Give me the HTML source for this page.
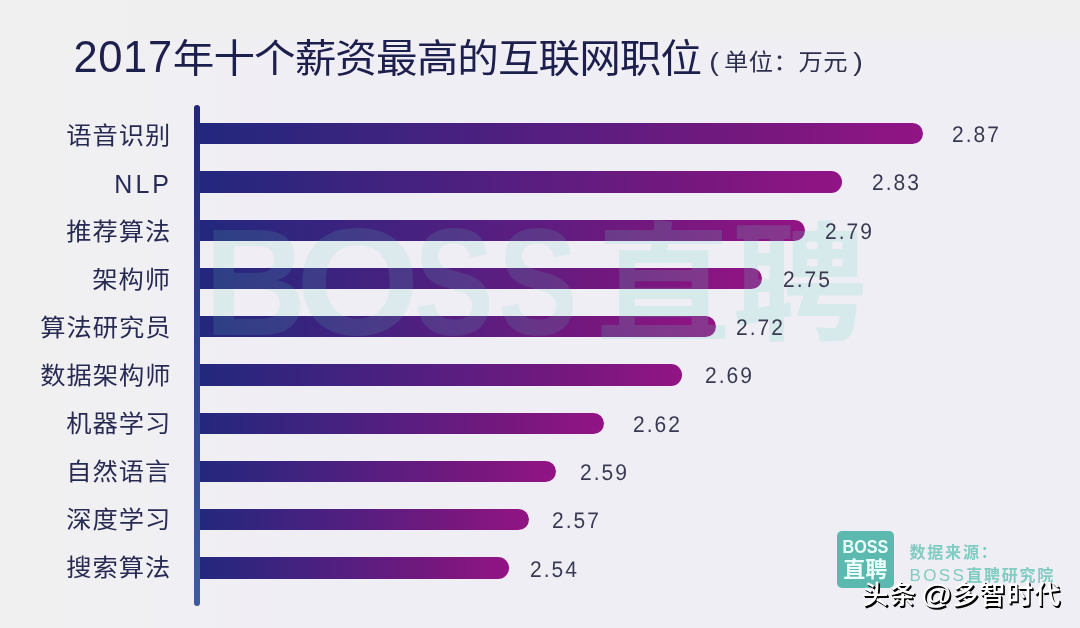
<!DOCTYPE html>
<html lang="zh-CN">
<head>
<meta charset="utf-8">
<title>2017年十个薪资最高的互联网职位</title>
<style>
html,body{margin:0;padding:0;}
body{width:1080px;height:628px;overflow:hidden;position:relative;
  font-family:"Liberation Sans","Noto Sans CJK SC",sans-serif;
  background:
    linear-gradient(to right,#f0f0f0 0%,rgba(240,240,240,0) 28%),
    linear-gradient(to bottom,#efefef 0%,#efefef 4%,rgba(239,239,239,0) 9%),
    #f0eef5;}
.title{position:absolute;left:73.5px;top:27.5px;font-size:43.5px;line-height:60px;color:#1d1f4c;white-space:nowrap;font-weight:400;letter-spacing:-2.7px;}
.title b{font-weight:400;letter-spacing:0.6px;position:relative;top:-1px;}
.title span{display:inline-block;margin-left:0.1px;font-size:41.6px;letter-spacing:-0.95px;transform:scaleY(0.93);transform-origin:50% 49%;}
.unit{position:absolute;top:44.2px;font-size:24.3px;line-height:36px;color:#2d2f4d;white-space:nowrap;letter-spacing:0.5px;transform:scaleY(0.95);transform-origin:50% 50%;}
.unit.p{font-size:25px;transform:scale(1.15,1.05);font-weight:400;}
.axis{position:absolute;left:194.1px;top:104.5px;width:5.9px;height:501.5px;border-radius:3px;background:linear-gradient(to bottom,#23267a 0%,#2f4193 50%,#3e5ba1 100%);}
.lab{position:absolute;right:909.7px;height:40px;line-height:40px;font-size:23.4px;color:#272a52;white-space:nowrap;letter-spacing:0.9px;margin-right:-0.9px;transform:scaleX(1.08);transform-origin:right center;}
.lab.en{font-size:25px;letter-spacing:3px;margin-right:-3px;transform:none;right:911px;}
.bar{position:absolute;left:197px;height:21.4px;border-radius:0 11px 11px 0;background:linear-gradient(to right,#22287d 0%,#3c237f 25%,#571e80 50%,#74187e 75%,#921484 100%);}
.val{position:absolute;height:40px;line-height:40px;font-size:22.6px;color:#393a52;letter-spacing:2.2px;white-space:nowrap;z-index:3;transform:scaleX(0.93);text-rendering:geometricPrecision;transform-origin:0 50%;}
.wm{position:absolute;left:0;top:0;width:1080px;height:628px;color:rgba(100,215,190,0.14);font-weight:700;}
.wm i{position:absolute;font-style:normal;white-space:nowrap;transform-origin:0 50%;font-size:153px;line-height:160px;top:201.5px;}
.wm i.c{font-size:129px;font-weight:700;top:206px;color:rgba(100,215,190,0.175);}
.logo{position:absolute;left:836.7px;top:530.7px;width:57px;height:57.5px;border-radius:5px;background:#5bb9af;color:#eafffb;text-align:center;font-weight:700;}
.logo .l1{position:absolute;left:0;right:0;top:4.5px;font-size:18.8px;line-height:24px;transform:scaleX(0.86);}
.logo .l2{position:absolute;left:0;right:0;top:25.8px;font-size:22px;line-height:28px;}
.src{position:absolute;left:909.5px;color:#80ccc2;font-weight:700;font-size:16px;line-height:24px;white-space:nowrap;letter-spacing:1.75px;}
.src b{font-weight:400;letter-spacing:2.4px;font-size:17px;}
.tt .at{display:inline-block;font-size:28.5px;transform:scaleX(1.1);margin:0 0.5px 0 -0.5px;position:relative;top:0.5px;}
.tt{word-spacing:-2.7px;position:absolute;left:862.1px;top:573.6px;font-size:26.4px;line-height:40px;color:#fff;white-space:nowrap;font-weight:500;letter-spacing:0.9px;
  text-shadow:0.8px 0.8px 0 #000,1.6px 1.6px 0 #000;}
</style>
</head>
<body>
<div class="title"><b>2017</b><span>年十个薪资最高的互联网职位</span></div>
<div class="unit p" style="left:709.5px">(</div><div class="unit" style="left:724px">单位：万元</div><div class="unit p" style="left:853.5px">)</div>
<div class="lab" style="top:116.1px">语音识别</div>
<div class="bar" style="top:123.0px;width:725.8px"></div>
<div class="val" style="top:115.2px;left:952.0px">2.87</div>
<div class="lab en" style="top:163.9px">NLP</div>
<div class="bar" style="top:171.2px;width:644.7px"></div>
<div class="val" style="top:163.4px;left:872.0px">2.83</div>
<div class="lab" style="top:212.1px">推荐算法</div>
<div class="bar" style="top:219.5px;width:608.3px"></div>
<div class="val" style="top:211.7px;left:824.5px">2.79</div>
<div class="lab" style="top:260.1px">架构师</div>
<div class="bar" style="top:267.8px;width:564.5px"></div>
<div class="val" style="top:259.9px;left:783.0px">2.75</div>
<div class="lab" style="top:308.1px">算法研究员</div>
<div class="bar" style="top:316.0px;width:519.0px"></div>
<div class="val" style="top:308.2px;left:736.0px">2.72</div>
<div class="lab" style="top:356.1px">数据架构师</div>
<div class="bar" style="top:364.2px;width:484.5px"></div>
<div class="val" style="top:356.4px;left:704.5px">2.69</div>
<div class="lab" style="top:404.1px">机器学习</div>
<div class="bar" style="top:412.5px;width:407.0px"></div>
<div class="val" style="top:404.7px;left:633.0px">2.62</div>
<div class="lab" style="top:452.1px">自然语言</div>
<div class="bar" style="top:460.8px;width:359.0px"></div>
<div class="val" style="top:452.9px;left:579.5px">2.59</div>
<div class="lab" style="top:500.1px">深度学习</div>
<div class="bar" style="top:509.0px;width:332.1px"></div>
<div class="val" style="top:501.2px;left:552.0px">2.57</div>
<div class="lab" style="top:548.1px">搜索算法</div>
<div class="bar" style="top:557.2px;width:311.8px"></div>
<div class="val" style="top:549.5px;left:529.5px">2.54</div>
<div class="axis"></div>
<div class="wm"><i style="left:203.5px;transform:scaleX(0.93)">B</i><i style="left:295.7px;transform:scaleX(1.04)">O</i><i style="left:414.4px;transform:scaleX(0.78)">S</i><i style="left:497.8px;transform:scaleX(0.78)">S</i><i class="c" style="left:595.5px;transform:scaleX(1.045)">直</i><i class="c" style="left:732.3px;transform:scaleX(1.045)">聘</i></div>
<div class="logo"><div class="l1">BOSS</div><div class="l2">直聘</div></div>
<div class="src" style="top:541px;letter-spacing:1.8px">数据来源：</div>
<div class="src" style="top:564px"><b>BOSS</b>直聘研究院</div>
<div class="tt">头条 <span class="at">@</span>多智时代</div>
</body>
</html>
